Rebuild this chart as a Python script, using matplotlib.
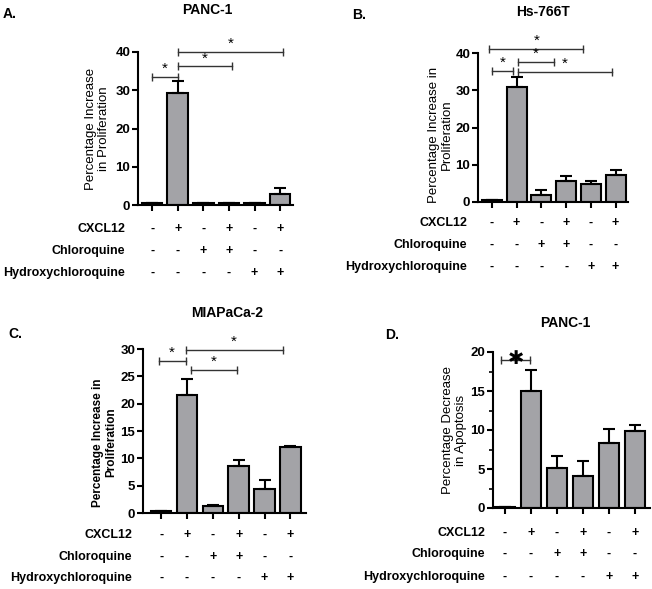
import numpy as np
import matplotlib.pyplot as plt

plt.rcParams['font.family'] = ['Liberation Sans', 'DejaVu Sans']

# treatment rows shown under every panel
row_names = ['CXCL12', 'Chloroquine', 'Hydroxychloroquine']
cxcl12 = ['-', '+', '-', '+', '-', '+']
chloro = ['-', '-', '+', '+', '-', '-']
hydroxy = ['-', '-', '-', '-', '+', '+']

# A: PANC-1 proliferation
a_vals = [0.4, 29.2, 0.4, 0.4, 0.4, 3.0]
a_err = [0, 3.1, 0, 0, 0, 1.4]
a_sig = [(0, 1, 33.5), (1, 3.1, 36.3), (1, 5.1, 40.1)]

# B: Hs-766T proliferation
b_vals = [0.5, 31.0, 1.9, 5.7, 4.9, 7.2]
b_err = [0, 2.6, 1.4, 1.2, 0.8, 1.3]
b_sig = [(0, 0.85, 35.2), (1.05, 2.5, 37.7), (-0.1, 3.7, 41.1), (1.05, 4.85, 35.0)]

# C: MIAPaCa-2 proliferation
c_vals = [0.4, 21.6, 1.2, 8.6, 4.4, 12.0]
c_err = [0, 3.0, 0.3, 1.1, 1.7, 0.2]
c_sig = [(-0.1, 0.95, 27.8), (0.95, 4.7, 29.8), (1.15, 2.95, 26.2)]

# D: PANC-1 apoptosis
d_vals = [0.15, 15.0, 5.1, 4.1, 8.3, 9.9]
d_err = [0, 2.7, 1.6, 1.9, 1.8, 0.7]
d_sig = [(-0.15, 0.97, 19.0)]

W, H = 652, 589
fig = plt.figure(figsize=(W / 100, H / 100), dpi=100)


def px_axes(left, top, right, bottom):
    return fig.add_axes([left / W, 1 - bottom / H, (right - left) / W, (bottom - top) / H])


def panel(ax, vals, err, ymax, ystep, xlim, ylabel, lab_xy, sig, rows_dy, row_dx,
          bold_label=False, big_star=False, minor=None):
    x = np.arange(len(vals))
    low = np.zeros(len(vals))
    ax.bar(x, vals, width=0.8, color='#a3a3a7', edgecolor='black', linewidth=1.5,
           yerr=[low, err], error_kw=dict(ecolor='black', elinewidth=1.5, capsize=4, capthick=1.5),
           zorder=2)
    ax.set_xlim(*xlim)
    ax.set_ylim(0, ymax)
    ax.set_yticks(np.arange(0, ymax + 0.1, ystep))
    if minor:
        ax.set_yticks(np.arange(0, ymax + 0.1, minor), minor=True)
        ax.tick_params(axis='y', which='minor', length=3, width=1.2)
    ax.set_xticks(x)
    ax.set_xticklabels([])
    for s in ['top', 'right']:
        ax.spines[s].set_visible(False)
    for s in ['left', 'bottom']:
        ax.spines[s].set_linewidth(1.5)
    ax.tick_params(axis='both', which='major', length=4, width=1.5, labelsize=9.5,
                   direction='out', pad=1.5)
    for t in ax.get_yticklabels():
        t.set_fontweight('bold')
    ax.set_ylabel(ylabel, fontsize=9.5 if not bold_label else 8.5,
                  fontweight='bold' if bold_label else 'normal', linespacing=1.15)
    ax.yaxis.set_label_coords(*lab_xy)

    # significance brackets
    for x1, x2, y in sig:
        ax.plot([x1, x2], [y, y], color='#333333', lw=1, marker='|', markersize=6,
                markeredgewidth=1, clip_on=False)
        if big_star:
            ax.text((x1 + x2) / 2, y, '\u2731', ha='center', va='center', fontsize=14,
                    clip_on=False)
        else:
            ax.text((x1 + x2) / 2, y + ymax * 0.005, '*', ha='center', va='bottom',
                    fontsize=11, clip_on=False)

    # treatment table under the axis
    for r, (name, signs) in enumerate(zip(row_names, [cxcl12, chloro, hydroxy])):
        dy = rows_dy[r]
        ax.annotate(name, xy=(0, 0), xycoords='axes pixels', xytext=(row_dx, -dy),
                    textcoords='offset pixels', ha='right', va='center',
                    fontsize=9, fontweight='bold')
        for i, s in enumerate(signs):
            ax.annotate(s, xy=(i, 0), xycoords=('data', 'axes pixels'), xytext=(0, -dy),
                        textcoords='offset pixels', ha='center', va='center',
                        fontsize=9, fontweight='bold')


axA = px_axes(138, 52, 293, 205)
panel(axA, a_vals, a_err, 40, 10, (-0.55, 5.5), 'Percentage Increase\nin Proliferation',
      (-0.18, 0.5), a_sig, [24, 46, 68], -13)
axB = px_axes(478, 53, 628, 202)
panel(axB, b_vals, b_err, 40, 10, (-0.56, 5.5), 'Percentage Increase in\nProliferation',
      (-0.167, 0.45), b_sig, [21, 43, 65], -11)
axC = px_axes(143, 349, 306, 513)
panel(axC, c_vals, c_err, 30, 5, (-0.7, 5.6), 'Percentage Increase in\nProliferation',
      (-0.16, 0.43), c_sig, [22, 44, 65], -11, bold_label=True)
axD = px_axes(493, 352, 650, 508)
panel(axD, d_vals, d_err, 20, 5, (-0.46, 5.58), 'Percentage Decrease\nin Apoptosis',
      (-0.166, 0.5), d_sig, [25, 46, 69], -8, big_star=True, minor=2.5)

# titles and panel letters
fig.text(207 / W, 1 - 10 / H, 'PANC-1', ha='center', va='center', fontsize=10, fontweight='bold')
fig.text(3 / W, 1 - 14 / H, 'A.', ha='left', va='center', fontsize=10, fontweight='bold')
fig.text(543 / W, 1 - 12 / H, 'Hs-766T', ha='center', va='center', fontsize=10, fontweight='bold')
fig.text(352 / W, 1 - 15 / H, 'B.', ha='left', va='center', fontsize=10, fontweight='bold')
fig.text(227 / W, 1 - 313 / H, 'MIAPaCa-2', ha='center', va='center', fontsize=10, fontweight='bold')
fig.text(8 / W, 1 - 334 / H, 'C.', ha='left', va='center', fontsize=10, fontweight='bold')
fig.text(565 / W, 1 - 323 / H, 'PANC-1', ha='center', va='center', fontsize=10, fontweight='bold')
fig.text(385 / W, 1 - 335 / H, 'D.', ha='left', va='center', fontsize=10, fontweight='bold')

fig.savefig('out.png', dpi=100)
